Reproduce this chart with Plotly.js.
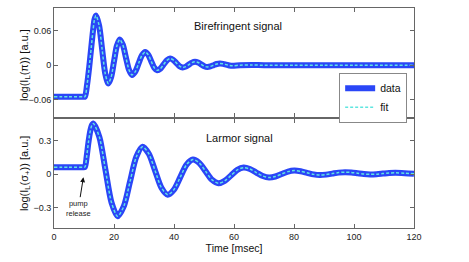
<!DOCTYPE html>
<html>
<head>
<meta charset="utf-8">
<script src="https://cdn.plot.ly/plotly-3.0.1.min.js"></script>
<style>html,body{margin:0;padding:0;background:#fff;}#chart{width:469px;height:262px;}</style>
</head>
<body>
<div id="chart"></div>
<script>
// Birefringent signal (top panel)
var topT = [0,5,9.6,10.3,11.0,11.7,12.4,13.0,13.5,14.0,15.03,16.05,17.08,18.1,19.05,20.0,20.95,21.9,22.93,23.95,24.98,26.0,27.1,28.2,29.3,30.4,31.4,32.4,33.4,34.4,35.48,36.55,37.63,38.7,39.75,40.8,41.85,42.9,43.93,44.95,45.98,47.0,48.03,49.05,50.08,51.1,52.15,53.2,54.25,55.3,56.35,57.4,58.45,59.5,62,66,70,80,90,100,110,120];
var topData = [-0.055,-0.055,-0.055,-0.055,-0.035,-0.005,0.03,0.06,0.08,0.087,0.0696,0.0275,-0.0146,-0.032,-0.0207,0.0065,0.0337,0.045,0.0359,0.014,-0.0079,-0.017,-0.0111,0.003,0.0171,0.023,0.0183,0.007,-0.0043,-0.009,-0.006,0.0013,0.0085,0.0115,0.0092,0.0038,-0.0017,-0.004,-0.0025,0.001,0.0045,0.006,0.0047,0.0015,-0.0017,-0.003,-0.0021,0,0.0021,0.003,0.0024,0.001,-0.0004,-0.001,0,0.0003,0,0,0,0,0,0];
var topFit = topData.slice();

// Larmor signal (bottom panel)
var botT = [0,5,9.6,10.3,10.9,11.5,12.1,12.6,13.1,15.13,17.15,19.18,21.2,23.28,25.35,27.43,29.5,31.6,33.7,35.8,37.9,40.0,42.1,44.2,46.3,48.43,50.55,52.68,54.8,56.9,59.0,61.1,63.2,65.3,67.45,69.6,71.7,73.8,75.9,78.0,80.1,82.2,84.35,86.5,88.6,90.7,92.8,94.9,97.0,99.1,101.2,103.3,105.4,107.5,109.6,111.7,113.8,116.9,120];
var botData = [0.063,0.063,0.063,0.065,0.16,0.29,0.39,0.44,0.457,0.334,0.0385,-0.257,-0.38,-0.288,-0.0665,0.155,0.247,0.184,0.031,-0.122,-0.185,-0.139,-0.0265,0.086,0.132,0.101,0.025,-0.051,-0.082,-0.061,-0.0115,0.038,0.059,0.046,0.0145,-0.017,-0.03,-0.021,0.001,0.023,0.032,0.026,0.012,-0.002,-0.008,-0.004,0.005,0.014,0.018,0.015,0.008,0.001,-0.002,0,0.005,0.01,0.012,0.009,0.004];
var botFit = botData.slice();

var xTicks = [0,20,40,60,80,100,120];
var topTicks = [-0.06,0,0.06];
var topTickText = ['\u22120.06','0','0.06'];
var botTicks = [-0.3,0,0.3];
var botTickText = ['\u22120.3','0','0.3'];

var dataColor = '#2a46f7';
var fitColor = '#5fe6e0';
var FONT = '"Liberation Sans", Arial, Helvetica, sans-serif';

var traces = [
  {x: topT, y: topData, xaxis:'x2', yaxis:'y2', mode:'lines', name:'data',
   line:{color:dataColor, width:6, shape:'spline', smoothing:0.8}, legendgroup:'d'},
  {x: topT, y: topFit, xaxis:'x2', yaxis:'y2', mode:'lines', name:'fit',
   line:{color:fitColor, width:1.5, dash:'3px,2px', shape:'spline', smoothing:0.8}, legendgroup:'f'},
  {x: botT, y: botData, xaxis:'x', yaxis:'y', mode:'lines', name:'data', showlegend:false,
   line:{color:dataColor, width:6, shape:'spline', smoothing:0.8}, legendgroup:'d'},
  {x: botT, y: botFit, xaxis:'x', yaxis:'y', mode:'lines', name:'fit', showlegend:false,
   line:{color:fitColor, width:1.5, dash:'3px,2px', shape:'spline', smoothing:0.8}, legendgroup:'f'}
];

var axCommon = {showline:true, linecolor:'#666', linewidth:1, mirror:'ticks', ticks:'inside',
  ticklen:4, tickcolor:'#666', showgrid:false, zeroline:false,
  tickfont:{family:FONT, size:9, color:'#222'}};

var layout = {
  width:469, height:262,
  margin:{l:54, r:55, t:8, b:34},
  paper_bgcolor:'#fff', plot_bgcolor:'#fff',
  font:{family:FONT, color:'#222'},
  showlegend:true,
  legend:{x:0.981, xanchor:'right', y:0.706, yanchor:'top', bgcolor:'#fff',
    bordercolor:'#888', borderwidth:1, font:{family:FONT, size:10.5, color:'#111'},
    tracegroupgap:0, itemwidth:30},
  xaxis: Object.assign({}, axCommon, {domain:[0,1], anchor:'y', range:[0,120], tickvals:xTicks,
    title:{text:'Time [msec]', font:{family:FONT, size:10.5, color:'#111'}, standoff:1}}),
  yaxis: Object.assign({}, axCommon, {domain:[0,0.4955], anchor:'x', range:[-0.485,0.497],
    tickvals:botTicks, ticktext:botTickText}),
  xaxis2: Object.assign({}, axCommon, {domain:[0,1], anchor:'y2', range:[0,120], tickvals:xTicks,
    showticklabels:false}),
  yaxis2: Object.assign({}, axCommon, {domain:[0.506,1], anchor:'x2', range:[-0.09,0.1],
    tickvals:topTicks, ticktext:topTickText}),
  annotations:[
    {xref:'x2', yref:'y2', x:46.1, y:0.069, xanchor:'left', yanchor:'middle', showarrow:false,
     text:'Birefringent signal', font:{family:FONT, size:11, color:'#111'}},
    {xref:'x', yref:'y', x:50, y:0.323, xanchor:'left', yanchor:'middle', showarrow:false,
     text:'Larmor signal', font:{family:FONT, size:11, color:'#111'}},
    {xref:'paper', yref:'paper', x:0, xshift:-29, y:0.741, textangle:-90, showarrow:false,
     xanchor:'center', yanchor:'middle',
     text:'log(I<sub>L</sub>(\u03c0)) [a.u.]', font:{family:FONT, size:11, color:'#111'}},
    {xref:'paper', yref:'paper', x:0, xshift:-29, y:0.245, textangle:-90, showarrow:false,
     xanchor:'center', yanchor:'middle',
     text:'log(I<sub>L</sub>(\u03c3<sub>+</sub>)) [a.u.]', font:{family:FONT, size:11, color:'#111'}},
    {xref:'x', yref:'y', x:9.8, y:-0.027, ax:-5, ay:31, showarrow:true, arrowhead:2,
     arrowsize:1, arrowwidth:1, arrowcolor:'#111', text:'pump<br>release',
     font:{family:FONT, size:7.5, color:'#222'}}
  ]
};

Plotly.newPlot('chart', traces, layout, {displayModeBar:false, staticPlot:true});
</script>
</body>
</html>
